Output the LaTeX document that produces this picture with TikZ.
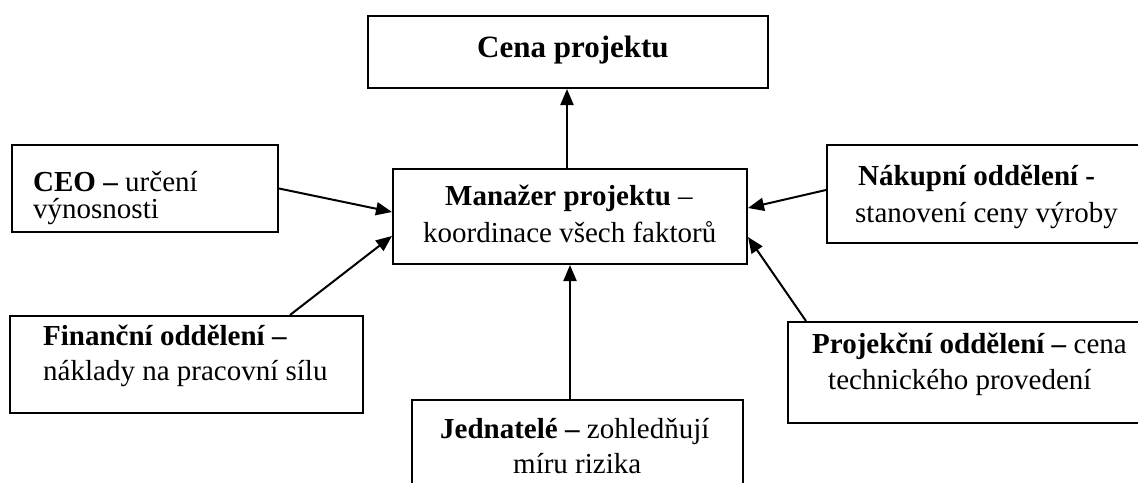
\documentclass[tikz,border=0pt]{standalone}
\usepackage{fontspec}
\setmainfont{Liberation Serif}
\usetikzlibrary{arrows.meta}
\begin{document}
\begin{tikzpicture}[x=1pt,y=-1pt,
  box/.style={draw, line width=2pt, rectangle, inner sep=0pt},
  txt/.style={inner sep=0pt, anchor=base west, font=\fontsize{29}{36}\selectfont},
  link/.style={line width=2pt, -{Triangle[length=16pt,width=13pt]}}]
\useasboundingbox (0,0) rectangle (1138,482);
\begin{scope}
  \clip (0,0) rectangle (1138,482);
  % boxes
  \node[box, minimum width=400pt, minimum height=72pt]  (cena) at (568,52) {};
  \node[box, minimum width=354pt, minimum height=95pt]  (mgr)  at (570,216.5) {};
  \node[box, minimum width=266pt, minimum height=87pt]  (ceo)  at (145,188.5) {};
  \node[box, minimum width=318pt, minimum height=98pt]  (nak)  at (986,194) {};
  \node[box, minimum width=353pt, minimum height=97pt]  (fin)  at (186.5,364.5) {};
  \node[box, minimum width=357pt, minimum height=101pt] (proj) at (966.5,372.5) {};
  \node[box, minimum width=331pt, minimum height=120pt] (jed)  at (577.5,460) {};
\end{scope}
% texts, one node per line
\node[txt, font=\fontsize{31}{36}\selectfont] (cenaT) at (477,57) {\textbf{Cena projektu}};
\node[txt] (mgrA) at (445,205) {\textbf{Manažer projektu} –};
\node[txt] (mgrB) at (423,242) {koordinace všech faktorů};
\node[txt] (ceoA) at (33,191) {\textbf{CEO –} určení};
\node[txt] (ceoB) at (33,218) {výnosnosti};
\node[txt] (nakA) at (858,185) {\textbf{Nákupní oddělení -}};
\node[txt] (nakB) at (855,222) {stanovení ceny výroby};
\node[txt] (finA) at (43,345) {\textbf{Finanční oddělení –}};
\node[txt] (finB) at (43,380) {náklady na pracovní sílu};
\node[txt] (projA) at (812,353) {\textbf{Projekční oddělení –} cena};
\node[txt] (projB) at (828,389) {technického provedení};
\node[txt] (jedA) at (440,438) {\textbf{Jednatelé –} zohledňují};
\node[txt] (jedB) at (513,473) {míru rizika};
% connectors
\draw[link] ([xshift=-3pt]mgr.north) -- ([xshift=-3pt]mgr.north |- cena.south);
\draw[link] (ceo.east) -- ([yshift=4.5pt]mgr.west);
\draw[link] ([xshift=103.5pt]fin.north) -- ([yshift=-19.5pt]mgr.west);
\draw[link] ([yshift=4pt]nak.west) -- ([yshift=8.5pt]mgr.east);
\draw[link] ([xshift=19pt]proj.north west) -- ([yshift=-20.5pt]mgr.east);
\draw[link] (mgr.south |- jed.north) -- (mgr.south);
\end{tikzpicture}
\end{document}
